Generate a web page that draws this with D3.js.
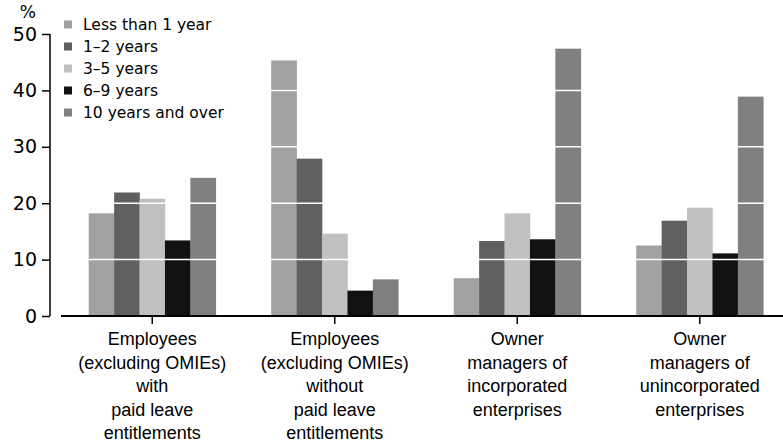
<!DOCTYPE html>
<html>
<head>
<meta charset="utf-8">
<script src="https://cdn.jsdelivr.net/npm/d3@7"></script>
<style>
  body { margin: 0; background: #fff; }
  svg { display: block; }
  .tick text { font-family: "DejaVu Sans", sans-serif; }
</style>
</head>
<body>
<div id="chart"></div>
<script>
// data
var categories = [
  ["Employees", "(excluding OMIEs)", "with", "paid leave", "entitlements"],
  ["Employees", "(excluding OMIEs)", "without", "paid leave", "entitlements"],
  ["Owner", "managers of", "incorporated", "enterprises"],
  ["Owner", "managers of", "unincorporated", "enterprises"]
]
var seriesNames = ["Less than 1 year", "1\u20132 years", "3\u20135 years", "6\u20139 years", "10 years and over"]
var seriesColors = ["#a1a1a1", "#606060", "#c0c0c0", "#111111", "#808080"]
var lessThan1 = [18.2, 45.3, 6.7, 12.5]
var years1to2 = [21.9, 27.9, 13.3, 16.9]
var years3to5 = [20.8, 14.6, 18.2, 19.2]
var years6to9 = [13.4, 4.5, 13.6, 11.1]
var years10plus = [24.5, 6.5, 47.4, 38.9]
var yTicks = [0, 10, 20, 30, 40, 50]

var values = [lessThan1, years1to2, years3to5, years6to9, years10plus]

var width = 783, height = 448
var svg = d3.select('#chart').append('svg')
    .attr('width', width)
    .attr('height', height)

// scales
var x0 = d3.scaleBand()
  .domain(d3.range(categories.length))
  .range([61, 791])
  .padding(0)
var x1 = d3.scaleBand()
  .domain(d3.range(seriesNames.length))
  .range([0, x0.bandwidth()])
  .paddingInner(0)
  .paddingOuter(1.09)
var y = d3.scaleLinear()
  .domain([0, 50])
  .range([316, 34])

// bars
var groups = svg.selectAll('.group')
    .data(categories)
    .enter()
  .append('g')
    .attr('class', 'group')
    .attr('transform', function (d, i) { return 'translate(' + x0(i) + ',0)' })

groups.selectAll('rect')
    .data(function (d, i) { return values.map(function (s, j) { return { s: j, v: s[i] } }) })
    .enter()
  .append('rect')
    .attr('x', function (d) { return x1(d.s) })
    .attr('width', x1.bandwidth() + 0.3)
    .attr('y', function (d) { return y(d.v) })
    .attr('height', function (d) { return y(0) - y(d.v) })
    .attr('fill', function (d) { return seriesColors[d.s] })

// white gridlines over the bars
svg.selectAll('.grid')
    .data(yTicks.slice(1, 5))
    .enter()
  .append('line')
    .attr('class', 'grid')
    .attr('x1', 61).attr('x2', width)
    .attr('y1', function (d) { return y(d) })
    .attr('y2', function (d) { return y(d) })
    .attr('stroke', '#fff')
    .attr('stroke-width', 1.5)

// Y-axis
var yAxis = d3.axisLeft(y).tickValues(yTicks).tickSize(8).tickPadding(5)
var yg = svg.append('g')
    .attr('transform', 'translate(50,0)')
    .call(yAxis)
yg.select('.domain').attr('stroke', '#000').attr('stroke-width', 1.5).attr('d', 'M0,' + y(50) + 'V' + y(0))
yg.selectAll('.tick line').attr('stroke-width', 1.5)
yg.selectAll('.tick text').style('font-size', '19px').attr('fill', '#000')

svg.append('text')
    .attr('x', 36)
    .attr('y', 18)
    .style('font-family', '"DejaVu Sans", sans-serif')
    .style('font-size', '17px')
    .attr('text-anchor', 'end')
    .text('%')

// X-axis
svg.append('line')
    .attr('x1', 61).attr('x2', width)
    .attr('y1', y(0)).attr('y2', y(0))
    .attr('stroke', '#000')
    .attr('stroke-width', 2)
svg.selectAll('.xtick')
    .data(categories)
    .enter()
  .append('line')
    .attr('class', 'xtick')
    .attr('x1', function (d, i) { return x0(i) + x0.bandwidth() / 2 })
    .attr('x2', function (d, i) { return x0(i) + x0.bandwidth() / 2 })
    .attr('y1', y(0)).attr('y2', y(0) + 8)
    .attr('stroke', '#000')
    .attr('stroke-width', 1.5)

var labels = svg.selectAll('.xlabel')
    .data(categories)
    .enter()
  .append('text')
    .attr('class', 'xlabel')
    .attr('text-anchor', 'middle')
    .style('font-family', '"Liberation Sans Narrow", "Arial Narrow", sans-serif')
    .style('font-size', '18px')
    .attr('transform', function (d, i) { return 'translate(' + (x0(i) + x0.bandwidth() / 2) + ',0)' })
labels.selectAll('tspan')
    .data(function (d) { return d })
    .enter()
  .append('tspan')
    .attr('x', 0)
    .attr('y', function (d, i) { return 345 + i * 23.5 })
    .text(function (d) { return d })

// legend
var legend = svg.selectAll('.legend')
    .data(seriesNames)
    .enter()
  .append('g')
    .attr('class', 'legend')
    .attr('transform', function (d, i) { return 'translate(64,' + (25 + i * 22) + ')' })
legend.append('rect')
    .attr('x', 0).attr('y', -4.5)
    .attr('width', 8).attr('height', 8)
    .attr('fill', function (d, i) { return seriesColors[i] })
legend.append('text')
    .attr('x', 19)
    .attr('dy', '0.35em')
    .style('font-family', '"DejaVu Sans", sans-serif')
    .style('font-size', '15.5px')
    .text(function (d) { return d })
</script>
</body>
</html>
